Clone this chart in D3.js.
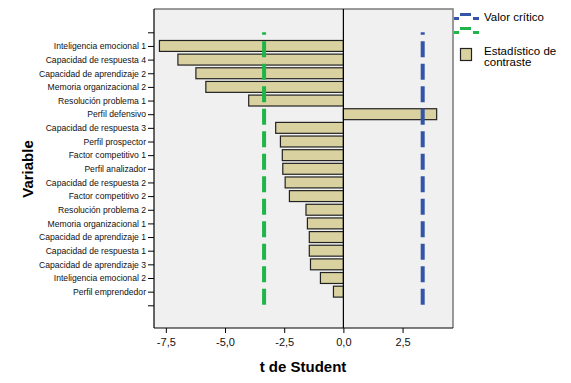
<!DOCTYPE html>
<html><head><meta charset="utf-8">
<script src="https://cdn.jsdelivr.net/npm/d3@7"></script>
<style>body{margin:0;background:#fff}svg{display:block}text{font-family:Arial,"Liberation Sans",sans-serif}</style>
</head><body><svg id="c" width="571" height="383"></svg>
<script>
const variables = ["Inteligencia emocional 1","Capacidad de respuesta 4","Capacidad de aprendizaje 2","Memoria organizacional 2","Resolución problema 1","Perfil defensivo","Capacidad de respuesta 3","Perfil prospector","Factor competitivo 1","Perfil analizador","Capacidad de respuesta 2","Factor competitivo 2","Resolución problema 2","Memoria organizacional 1","Capacidad de aprendizaje 1","Capacidad de respuesta 1","Capacidad de aprendizaje 3","Inteligencia emocional 2","Perfil emprendedor"];
const tValues = [-7.77,-6.99,-6.23,-5.81,-4.00,3.94,-2.86,-2.66,-2.58,-2.56,-2.46,-2.28,-1.58,-1.52,-1.44,-1.44,-1.39,-0.97,-0.42];
const criticalValues = [-3.35, 3.35];
const xTicks = [-7.5,-5.0,-2.5,0.0,2.5];
const legendLabels = ["Valor crítico", ["Estadístico de","contraste"]];

const svg = d3.select("#c");
const L=154, R=453, T=9, B=328;
const x = d3.scaleLinear().domain([-8.0,4.63]).range([L,R]);
const cats = ["_t", ...variables, "_b"];
const y = d3.scalePoint().domain(cats).range([32.3,305.3]);
const step = y.step();
const bh = step*0.8;

svg.append("rect").attr("x",L).attr("y",T).attr("width",R-L).attr("height",B-T).attr("fill","#f0f0f0");
// top/right border
svg.append("path").attr("d",`M${L},${T}H${R}V${B}`).attr("fill","none").attr("stroke","#7a7a7a").attr("stroke-width",1.5);

// bars
svg.append("g").selectAll("rect").data(variables).join("rect")
  .attr("x",(d,i)=>x(Math.min(0,tValues[i])))
  .attr("width",(d,i)=>Math.abs(x(tValues[i])-x(0)))
  .attr("y",d=>y(d)-bh/2).attr("height",bh)
  .attr("fill","#d9d2a0").attr("stroke","#222").attr("stroke-width",1.2);

// zero line
svg.append("line").attr("x1",x(0)).attr("x2",x(0)).attr("y1",T).attr("y2",B).attr("stroke","#000").attr("stroke-width",1.2);

// critical lines
const ccols = ["#1fb548","#3454a8"];
criticalValues.forEach((v,i)=>{
  svg.append("line").attr("x1",x(v)).attr("x2",x(v)).attr("y1",y("_t")).attr("y2",y("_b"))
    .attr("stroke",ccols[i]).attr("stroke-width",4).attr("stroke-dasharray","16,6.5").attr("stroke-dashoffset",13.6);
});

// axes
const yAxis = d3.axisLeft(y).tickSize(6).tickPadding(2).tickFormat(d=>d.startsWith("_")?"":d);
const gy = svg.append("g").attr("transform",`translate(${L},0)`).call(yAxis);
gy.select(".domain").attr("d",`M0,${T}V${B}`).attr("stroke","#000").attr("stroke-width",1.2);
gy.selectAll(".tick line").attr("stroke","#000");
gy.selectAll("text").attr("font-size",8.6).attr("fill","#111").attr("font-family","Arial, 'Liberation Sans', sans-serif");

const xAxis = d3.axisBottom(x).tickValues(xTicks).tickSize(5).tickPadding(5).tickFormat(d=>d3.format(".1f")(d).replace(".",",").replace("−","-"));
const gx = svg.append("g").attr("transform",`translate(0,${B})`).call(xAxis);
gx.select(".domain").attr("d",`M${L},0H${R}`).attr("stroke","#000").attr("stroke-width",1.2);
gx.selectAll(".tick line").attr("stroke","#000");
gx.selectAll("text").attr("font-size",11).attr("fill","#111").attr("font-family","Arial, 'Liberation Sans', sans-serif");

// titles
svg.append("text").attr("x",303).attr("y",372).attr("text-anchor","middle").attr("font-weight","bold").attr("font-size",15).text("t de Student");
svg.append("text").attr("transform","translate(33,169) rotate(-90)").attr("text-anchor","middle").attr("font-weight","bold").attr("font-size",15).text("Variable");

// legend
const lg = svg.append("g");
[[ccols[1],13],[ccols[0],27]].forEach(([c,yy])=>{
  lg.append("rect").attr("x",460).attr("y",yy).attr("width",11).attr("height",3).attr("fill",c);
  lg.append("rect").attr("x",454).attr("y",yy+4).attr("width",5).attr("height",3).attr("fill",c);
  lg.append("rect").attr("x",473).attr("y",yy+4).attr("width",6).attr("height",3).attr("fill",c);
});
lg.append("text").attr("x",484).attr("y",21).attr("font-size",11.5).text(legendLabels[0]);
lg.append("rect").attr("x",460.5).attr("y",48.5).attr("width",11).attr("height",12).attr("fill","#d9d2a0").attr("stroke","#222").attr("stroke-width",1.2);
lg.append("text").attr("x",484).attr("y",55).attr("font-size",11.5).text(legendLabels[1][0]);
lg.append("text").attr("x",484).attr("y",66).attr("font-size",11.5).text(legendLabels[1][1]);
</script></body></html>
